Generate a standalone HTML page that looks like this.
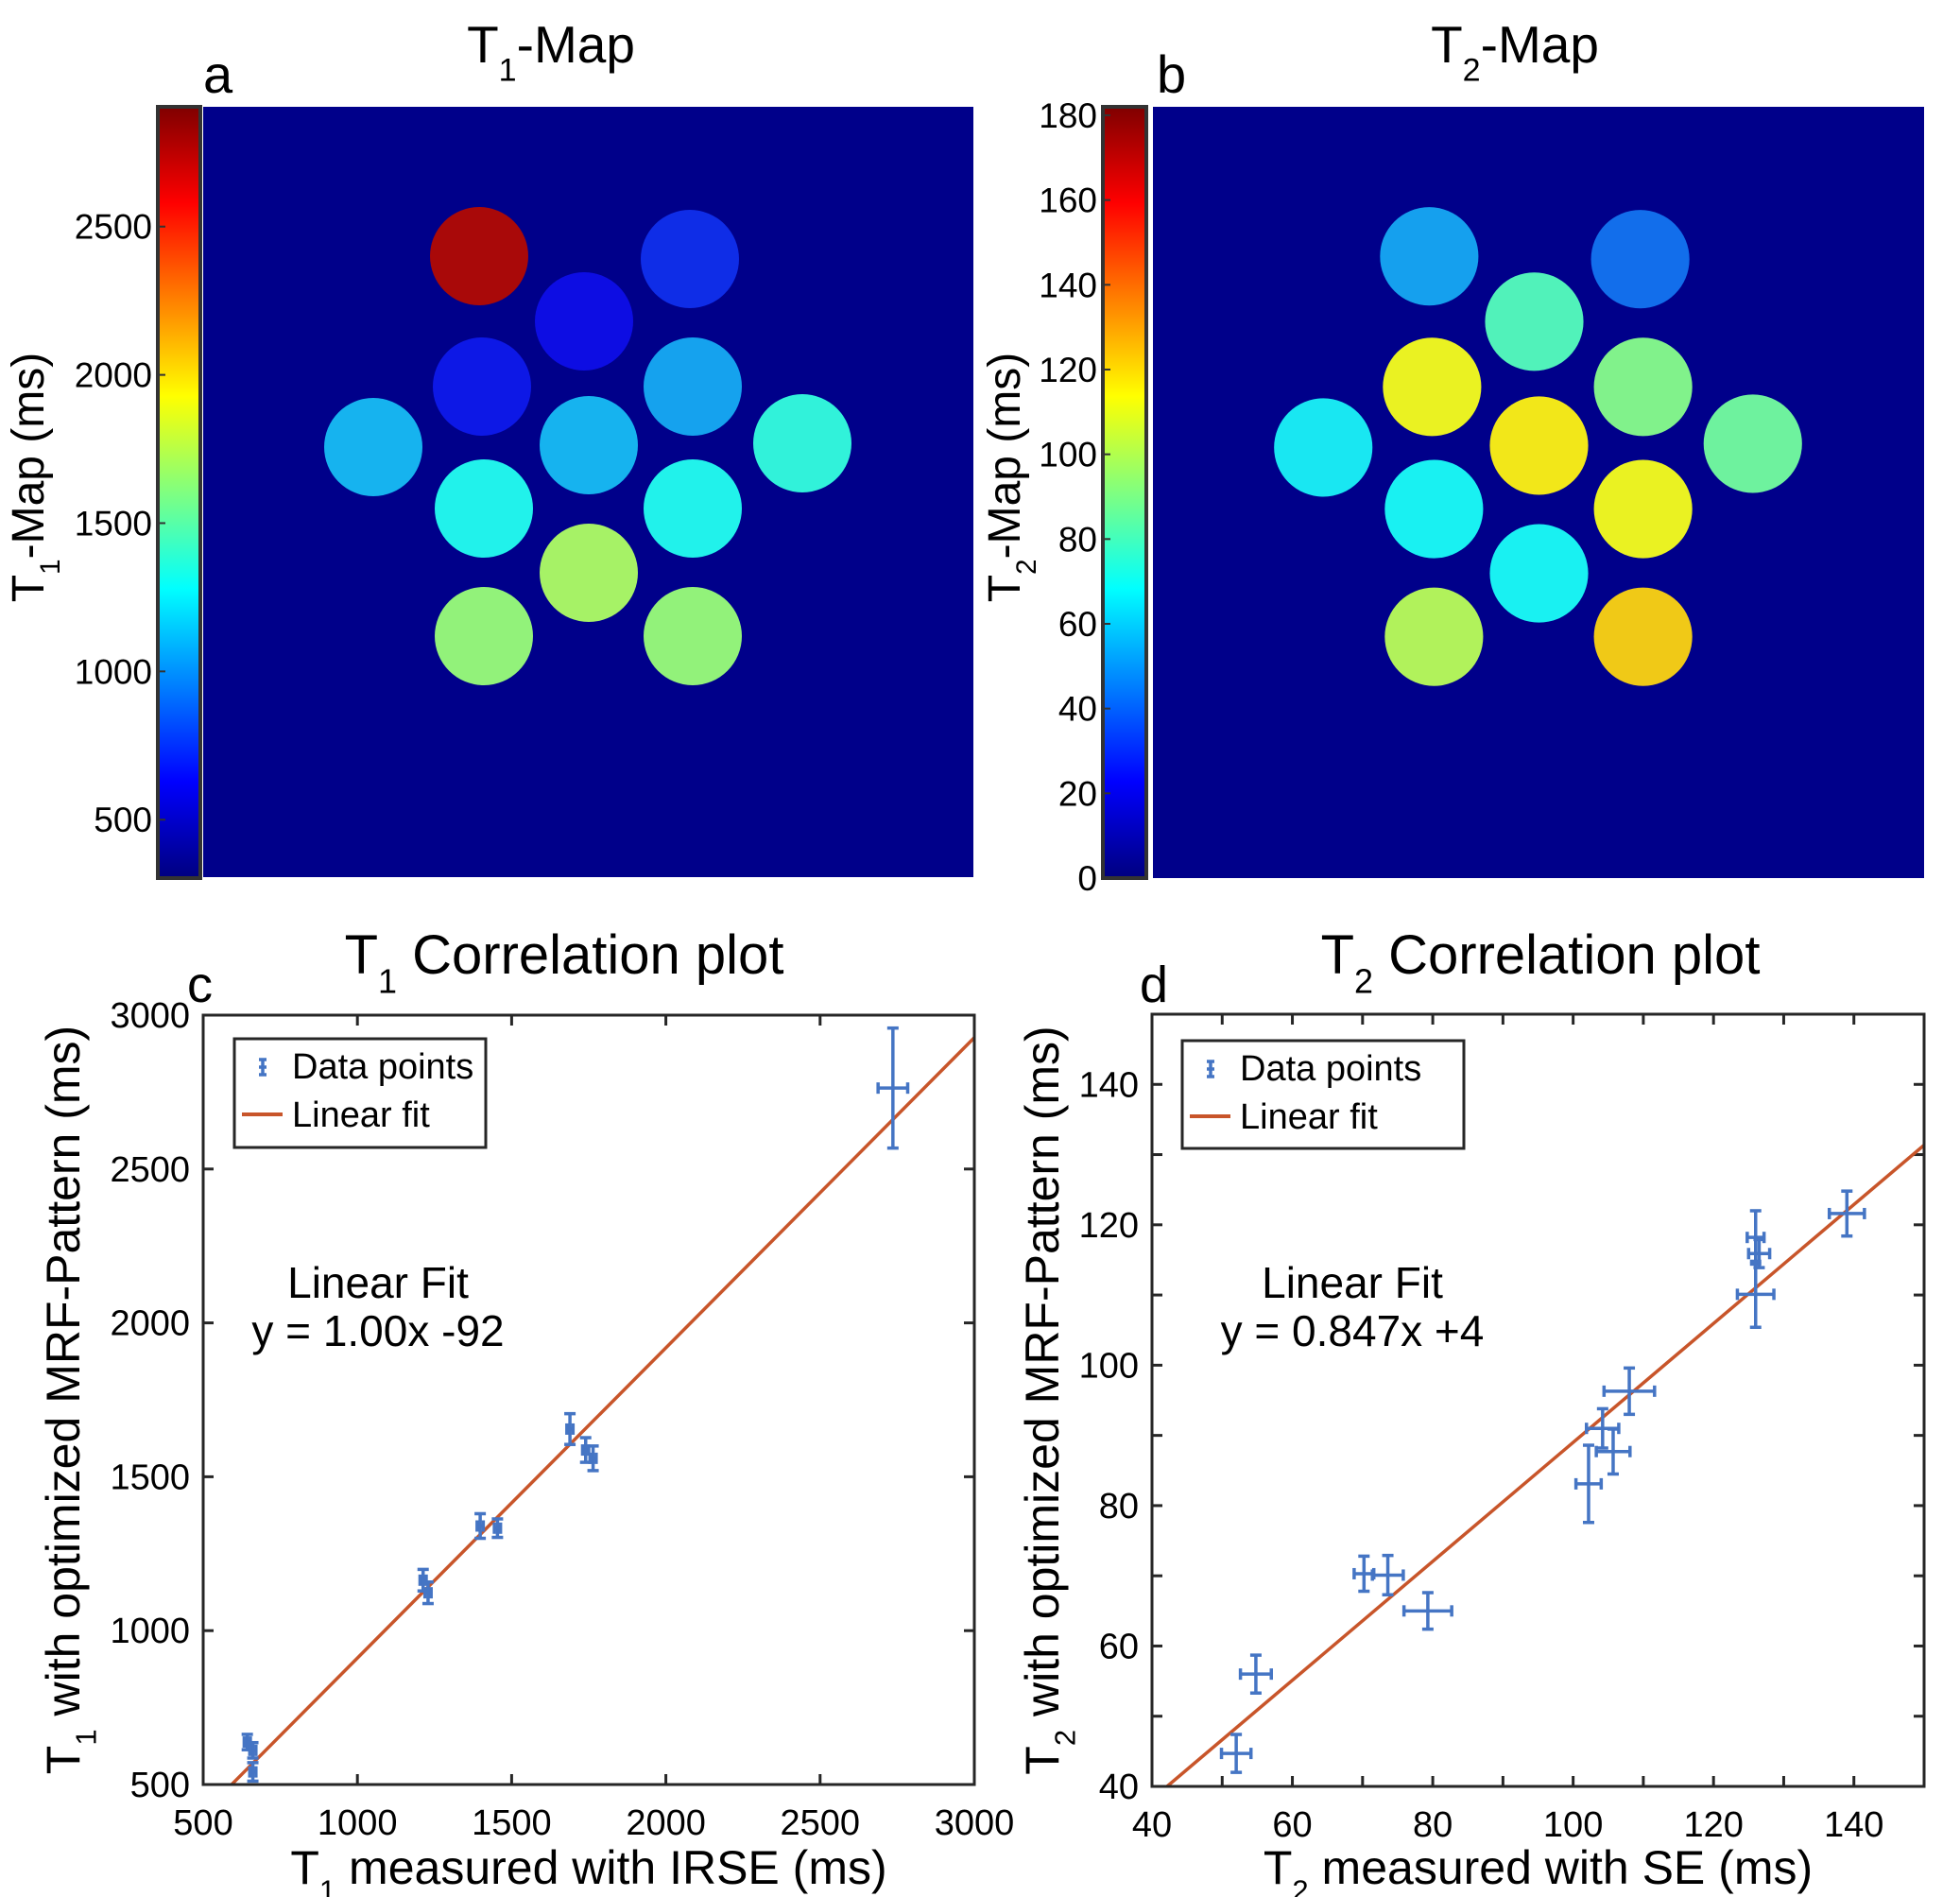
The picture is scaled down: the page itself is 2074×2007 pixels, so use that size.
<!DOCTYPE html>
<html><head><meta charset="utf-8">
<style>
html,body{margin:0;padding:0;background:#fff;}
svg{display:block;font-family:"Liberation Sans",Arial,sans-serif;}
</style></head>
<body>
<svg id="fig" width="2074" height="2007" viewBox="0 0 2074 2007" xmlns="http://www.w3.org/2000/svg">
<defs id="defs"></defs>
<g id="root"></g>
</svg>
<script>
// ---------- data ----------
const vialX = [292, 515, 403, 295, 518, 180, 408, 634, 297, 518, 408, 297, 518];
const vialY = [158, 161, 227, 296, 296, 360, 358, 356, 425, 425, 493, 560, 560];
const t1Values = [2750, 720, 620, 660, 1050, 1100, 1100, 1350, 1300, 1300, 1700, 1640, 1640];
const t2Values = [52, 42, 80, 112, 90, 66, 116, 86, 68, 112, 68, 100, 122];
const t1CbTicks = [500, 1000, 1500, 2000, 2500];
const t2CbTicks = [0, 20, 40, 60, 80, 100, 120, 140, 160, 180];

const c_x = [2736, 1689, 1740, 1764, 1398, 1454, 1213, 1229, 643, 661, 661];
const c_y = [2763, 1655, 1587, 1560, 1340, 1333, 1164, 1123, 638, 611, 541];
const c_xerr = [48, 10, 10, 10, 10, 10, 10, 10, 10, 10, 10];
const c_yerr = [195, 50, 40, 40, 40, 30, 35, 35, 25, 25, 30];
const c_fit = [1.008, -97];
const c_ticks = [500, 1000, 1500, 2000, 2500, 3000];

const d_x = [52.0, 54.8, 70.2, 73.6, 79.3, 102.2, 104.2, 105.7, 108.0, 126.0, 126.5, 126.0, 139.0];
const d_y = [44.7, 56.0, 70.3, 70.1, 65.0, 83.1, 91.0, 87.7, 96.3, 118.2, 115.9, 110.1, 121.6];
const d_xerr = [2.1, 2.2, 1.4, 2.2, 3.4, 1.8, 2.3, 2.4, 3.6, 1.2, 1.5, 2.6, 2.5];
const d_yerr = [2.7, 2.7, 2.5, 2.8, 2.6, 5.5, 2.8, 3.2, 3.3, 3.8, 2.0, 4.7, 3.2];
const d_fit = [0.847, 4.3];
const d_xticks = [40, 60, 80, 100, 120, 140];
const d_yticks = [40, 60, 80, 100, 120, 140];
const d_minor = [50, 70, 90, 110, 130, 150];

// ---------- helpers ----------
const NS = "http://www.w3.org/2000/svg";
const root = document.getElementById('root');
function el(tag, attrs, parent) {
  const e = document.createElementNS(NS, tag);
  for (const k in attrs) e.setAttribute(k, attrs[k]);
  (parent || root).appendChild(e);
  return e;
}
function clamp(v){return Math.max(0,Math.min(1,v));}
function jet(t){
  t = clamp(t);
  const r = clamp(1.5 - Math.abs(4*t-3)), g = clamp(1.5 - Math.abs(4*t-2)), b = clamp(1.5 - Math.abs(4*t-1));
  return `rgb(${Math.round(r*255)},${Math.round(g*255)},${Math.round(b*255)})`;
}
function soft(t){
  // slightly desaturated jet to mimic noisy pixel averaging
  t = clamp(t);
  const r = clamp(1.5 - Math.abs(4*t-3)), g = clamp(1.5 - Math.abs(4*t-2)), b = clamp(1.5 - Math.abs(4*t-1));
  const m = 0.15, a = (r+g+b)/3;
  return `rgb(${Math.round((r*(1-m)+a*m)*255)},${Math.round((g*(1-m)+a*m)*255)},${Math.round((b*(1-m)+a*m)*255)})`;
}
function txt(x, y, s, size, anchor, parent, name) {
  const t = el('text', {x:x, y:y, 'font-size':size, 'text-anchor':anchor||'middle', fill:'#000'}, parent);
  
  
  t.textContent = s;
  return t;
}
function subText(x, y, parts, size, anchor, parent, name, rotate) {
  const attrs = {x:x, y:y, 'font-size':size, 'text-anchor':anchor||'middle', fill:'#000'};
  if (rotate) attrs.transform = `rotate(-90 ${x} ${y})`;
  const t = el('text', attrs, parent);
  
  
  let shifted = false;
  parts.forEach(p => {
    const ts = el('tspan', {}, t);
    if (p[1]) { ts.setAttribute('font-size', size*0.62); ts.setAttribute('dy', size*0.35); shifted = true; }
    else if (shifted) { ts.setAttribute('dy', -size*0.35); shifted = false; }
    ts.textContent = p[0];
  });
  return t;
}

// ---------- maps ----------
const defs = document.getElementById('defs');
(function(){
  const g = el('linearGradient', {id:'jetgrad', x1:0, y1:1, x2:0, y2:0}, defs);
  for (let i = 0; i <= 64; i++) el('stop', {offset: (i/64), 'stop-color': jet(i/64)}, g);
})();

function mapPanel(opt){
  const g = el('g', {});
  
  
  const bg = el('rect', {x:opt.mx, y:opt.my, width:opt.mw, height:opt.mh, fill:'#00008a'}, g);
  
  
  const s = opt.mw/815;
  for (let i = 0; i < vialX.length; i++) {
    const c = el('circle', {cx: opt.mx + vialX[i]*s, cy: opt.my + vialY[i]*s, r: 52*s,
      fill: soft((opt.values[i]-opt.vmin)/(opt.vmax-opt.vmin))}, g);
    
    
  }
  const cb = el('rect', {x:opt.cx, y:opt.cy, width:opt.cw, height:opt.ch, fill:'url(#jetgrad)', stroke:'#333', 'stroke-width':4}, g);
  
  
  opt.ticks.forEach(v => {
    const y = opt.cy + opt.ch - (v-opt.vmin)/(opt.vmax-opt.vmin)*opt.ch;
    el('line', {x1:opt.cx, x2:opt.cx+8, y1:y, y2:y, stroke:'#333', 'stroke-width':2}, g);
    txt(opt.cx-6, y+13, String(v), 37, 'end', g, 'colorbar-tick-label');
  });
  subText(opt.lx, 505, [['T',0],[opt.sub,1],['-Map (ms)',0]], 48, 'middle', g, 'colorbar-title', true);
  subText(opt.tx, 66, [['T',0],[opt.sub,1],['-Map',0]], 55, 'middle', g, 'map-title');
  txt(opt.px, 98, opt.letter, 56, 'start', g, 'panel-letter');
}
mapPanel({name:'t1-map-panel', mx:215, my:113, mw:815, mh:815, cx:167, cy:113, cw:45, ch:816,
  values:t1Values, vmin:303, vmax:2904, ticks:t1CbTicks, sub:'1', lx:46, tx:583, px:215, letter:'a'});
mapPanel({name:'t2-map-panel', mx:1220, my:113, mw:816, mh:816, cx:1167, cy:113, cw:46, ch:816,
  values:t2Values, vmin:0, vmax:182, ticks:t2CbTicks, sub:'2', lx:1079, tx:1603, px:1224, letter:'b'});

// ---------- scatter panels ----------
function scatterPanel(o){
  const g = el('g', {});
  
  
  const sx = v => o.x0 + (v-o.xmin)/(o.xmax-o.xmin)*(o.x1-o.x0);
  const sy = v => o.y1 - (v-o.ymin)/(o.ymax-o.ymin)*(o.y1-o.y0);
  const clip = el('clipPath', {id:o.name+'-clip'}, defs);
  el('rect', {x:o.x0, y:o.y0, width:o.x1-o.x0, height:o.y1-o.y0}, clip);
  const tl = 11;
  o.xticks.concat(o.xminor||[]).forEach(v => {
    const x = sx(v);
    el('line', {x1:x, x2:x, y1:o.y1, y2:o.y1-tl, stroke:'#262626', 'stroke-width':3}, g);
    el('line', {x1:x, x2:x, y1:o.y0, y2:o.y0+tl, stroke:'#262626', 'stroke-width':3}, g);
  });
  o.yticks.concat(o.yminor||[]).forEach(v => {
    const y = sy(v);
    el('line', {x1:o.x0, x2:o.x0+tl, y1:y, y2:y, stroke:'#262626', 'stroke-width':3}, g);
    el('line', {x1:o.x1, x2:o.x1-tl, y1:y, y2:y, stroke:'#262626', 'stroke-width':3}, g);
  });
  o.xticks.forEach(v => txt(sx(v), o.y1+53, String(v), 38, 'middle', g, 'x-tick-label'));
  o.yticks.forEach(v => txt(o.x0-14, sy(v)+13, String(v), 38, 'end', g, 'y-tick-label'));
  const fx0 = Math.max(o.xmin, (o.ymin - o.fit[1])/o.fit[0]);
  const fx1 = Math.min(o.xmax, (o.ymax - o.fit[1])/o.fit[0]);
  const fl = el('line', {x1:sx(fx0), y1:sy(o.fit[0]*fx0+o.fit[1]), x2:sx(fx1), y2:sy(o.fit[0]*fx1+o.fit[1]),
    stroke:'#C8552A', 'stroke-width':3.5, 'clip-path':`url(#${o.name}-clip)`}, g);
  
  
  const col = '#4575C4';
  for (let i = 0; i < o.xs.length; i++) {
    const eg = el('g', {stroke:col, 'stroke-width':3.5, fill:'none'}, g);
    
    
    const x = sx(o.xs[i]), y = sy(o.ys[i]);
    const ya = sy(o.ys[i]+o.ye[i]), yb = sy(o.ys[i]-o.ye[i]);
    const xa = sx(o.xs[i]-o.xe[i]), xb = sx(o.xs[i]+o.xe[i]);
    const cap = 6;
    el('line', {x1:x, x2:x, y1:ya, y2:yb}, eg);
    el('line', {x1:x-cap, x2:x+cap, y1:ya, y2:ya}, eg);
    el('line', {x1:x-cap, x2:x+cap, y1:yb, y2:yb}, eg);
    el('line', {x1:xa, x2:xb, y1:y, y2:y}, eg);
    el('line', {x1:xa, x2:xa, y1:y-cap, y2:y+cap}, eg);
    el('line', {x1:xb, x2:xb, y1:y-cap, y2:y+cap}, eg);
  }
  const box = el('rect', {x:o.x0, y:o.y0, width:o.x1-o.x0, height:o.y1-o.y0, fill:'none', stroke:'#262626', 'stroke-width':3}, g);
  
  
  const lg = el('g', {}, g);
  
  
  el('rect', {x:o.lg[0], y:o.lg[1], width:o.lg[2], height:o.lg[3], fill:'#fff', stroke:'#262626', 'stroke-width':3}, lg);
  const ix = o.lg[0]+30, iy = o.lg[1]+30;
  const ic = el('g', {stroke:col, 'stroke-width':3.5}, lg);
  
  
  el('line', {x1:ix, x2:ix, y1:iy-8, y2:iy+8}, ic);
  el('line', {x1:ix-4, x2:ix+4, y1:iy-8, y2:iy-8}, ic);
  el('line', {x1:ix-4, x2:ix+4, y1:iy+8, y2:iy+8}, ic);
  el('line', {x1:ix-4, x2:ix+4, y1:iy, y2:iy}, ic);
  txt(o.lg[0]+61, o.lg[1]+42, 'Data points', 38, 'start', lg, 'legend-entry-data-points');
  const ll = el('line', {x1:o.lg[0]+8, x2:o.lg[0]+51, y1:o.lg[1]+80, y2:o.lg[1]+80, stroke:'#C8552A', 'stroke-width':4}, lg);
  
  
  txt(o.lg[0]+61, o.lg[1]+93, 'Linear fit', 38, 'start', lg, 'legend-entry-linear-fit');
  txt(o.ax, 1373, 'Linear Fit', 46, 'middle', g, 'fit-annotation-title');
  txt(o.ax, 1424, o.eq, 46, 'middle', g, 'fit-annotation-equation');
  subText(o.tx, 1030, [['T',0],[o.sub,1],[' Correlation plot',0]], 58, 'middle', g, 'plot-title');
  txt(o.px, 1060, o.letter, 54, 'start', g, 'panel-letter');
  subText((o.x0+o.x1)/2, 1993, [['T',0],[o.sub,1],[o.xlabel,0]], 50, 'middle', g, 'x-axis-title');
  subText(o.ylx, (o.y0+o.y1)/2, [['T',0],[o.sub,1],[' with optimized MRF-Pattern (ms)',0]], 50, 'middle', g, 'y-axis-title', true);
}
scatterPanel({name:'t1-correlation-plot', x0:215, x1:1031, y0:1074, y1:1888, xmin:500, xmax:3000, ymin:500, ymax:3000,
  xticks:c_ticks, yticks:c_ticks, xs:c_x, ys:c_y, xe:c_xerr, ye:c_yerr, fit:c_fit,
  lg:[248,1099,266,115], ax:400, eq:'y = 1.00x -92', tx:597, sub:'1', px:198, letter:'c',
  xlabel:' measured with IRSE (ms)', ylx:84});
scatterPanel({name:'t2-correlation-plot', x0:1219, x1:2036, y0:1073, y1:1890, xmin:40, xmax:150, ymin:40, ymax:150,
  xticks:d_xticks, yticks:d_yticks, xminor:d_minor, yminor:d_minor, xs:d_x, ys:d_y, xe:d_xerr, ye:d_yerr, fit:d_fit,
  lg:[1251,1101,298,114], ax:1431, eq:'y = 0.847x +4', tx:1630, sub:'2', px:1206, letter:'d',
  xlabel:' measured with SE (ms)', ylx:1120});
</script>
</body></html>
